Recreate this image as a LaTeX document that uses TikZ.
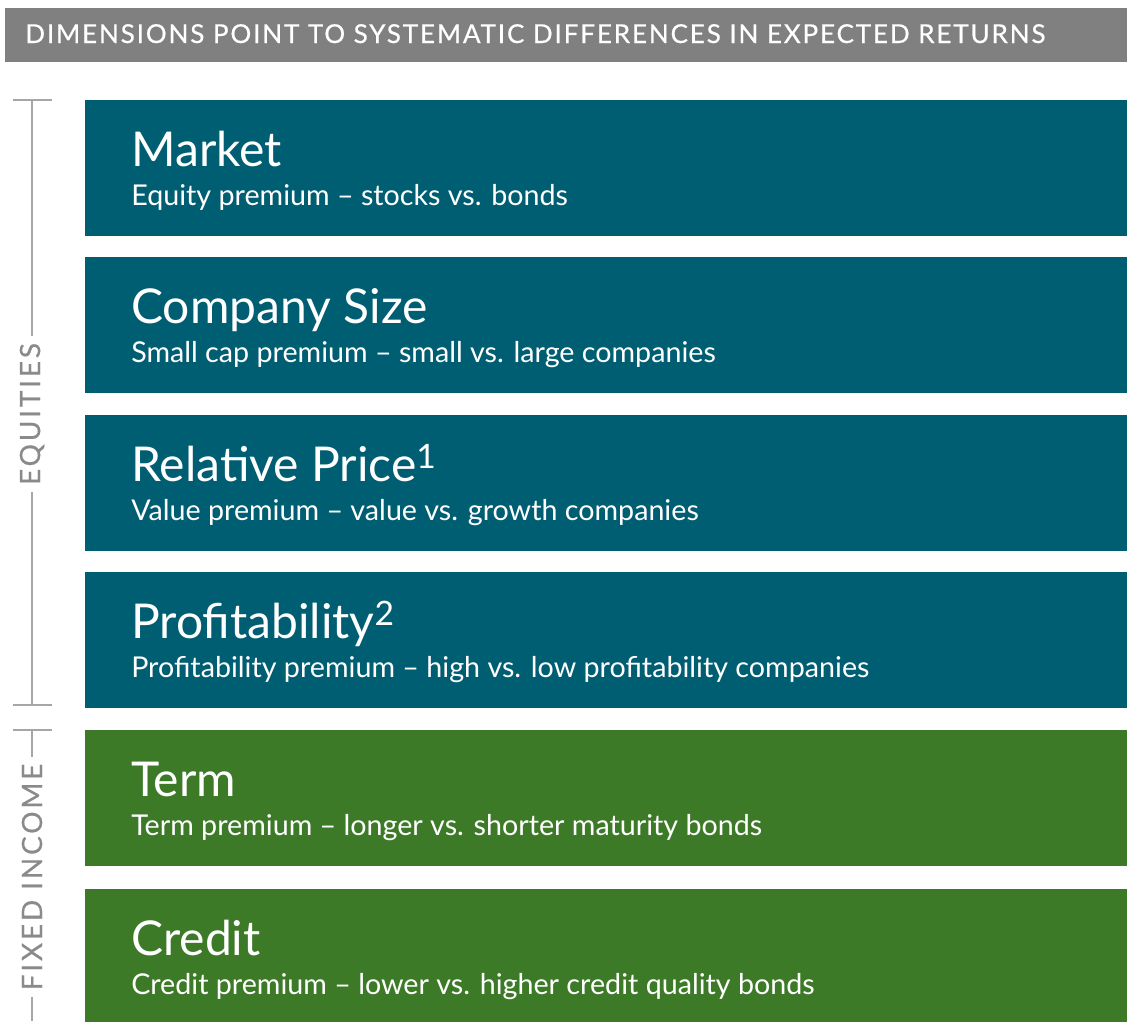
\documentclass[tikz,border=0pt]{standalone}
\usepackage{fontspec}
\setmainfont{Lato}
\usetikzlibrary{positioning}
\definecolor{hdrgray}{RGB}{128,128,128}
\definecolor{eqteal}{RGB}{0,94,115}
\definecolor{figreen}{RGB}{61,122,40}
\definecolor{brgray}{RGB}{166,166,166}
\definecolor{lblgray}{RGB}{138,138,138}
\tikzset{
  dimbox/.style={fill=#1, draw=none},
  dimtitle/.style={anchor=base west, text=white, inner sep=0pt, font=\fontsize{36}{40}\selectfont},
  dimsub/.style={anchor=base west, text=white, inner sep=0pt, font=\fontsize{21.5}{24}\selectfont},
  bracket/.style={draw=brgray, line width=2.2pt},
  sidelabel/.style={text=lblgray, rotate=90, inner sep=5pt,
    font=\fontsize{21}{24}\selectfont\addfontfeatures{LetterSpace=10,FakeBold=0.4}}
}
\begin{document}
\begin{tikzpicture}[x=0.75pt,y=-0.75pt]
\useasboundingbox (0,0) rectangle (1127,1021);

% header bar
\fill[hdrgray] (5,8) rectangle (1127,62);
\node[anchor=base west, text=white, inner sep=0pt,
  font=\fontsize{19.5}{22}\selectfont\addfontfeatures{LetterSpace=7.2,FakeBold=0.6}] (header) at (25,43)
  {DIMENSIONS POINT TO SYSTEMATIC DIFFERENCES IN EXPECTED RETURNS};

% dimension boxes
\foreach \top/\col/\name/\title/\sub in {
  100/eqteal/market/{Market}/{Equity premium -- stocks vs. bonds},
  257/eqteal/size/{Company Size}/{Small cap premium -- small vs. large companies},
  415/eqteal/price/{Relative Price\textsuperscript{1}}/{Value premium -- value vs. growth companies},
  572/eqteal/profit/{Profitability\textsuperscript{2}}/{Profitability premium -- high vs. low profitability companies},
  730/figreen/term/{Term}/{Term premium -- longer vs. shorter maturity bonds},
  889/figreen/credit/{Credit}/{Credit premium -- lower vs. higher credit quality bonds}}
{
  \fill[dimbox=\col] (85,\top) rectangle (1127,\top+136);
  \node[dimtitle] (\name-t) at (131,\top+66) {\title};
  \node[dimsub] (\name-s) at (131,\top+105) {\sub};
}

% equities bracket
\node[sidelabel] (eq) at (32,414) {EQUITIES};
\coordinate (eqtop) at (32,100);
\coordinate (eqbot) at (32,705);
\draw[bracket] (13,100) -- (52,100);
\draw[bracket] (13,705) -- (52,705);
\draw[bracket] (eqtop) -- (eq.east);
\draw[bracket] (eq.west) -- (eqbot);

% fixed income bracket
\node[sidelabel] (fi) at (32,877) {FIXED INCOME};
\coordinate (fitop) at (32,730);
\coordinate (fibot) at (32,1021);
\draw[bracket] (13,730) -- (52,730);
\draw[bracket] (fitop) -- (fi.east);
\draw[bracket] (fi.west) -- (fibot);
\end{tikzpicture}
\end{document}
